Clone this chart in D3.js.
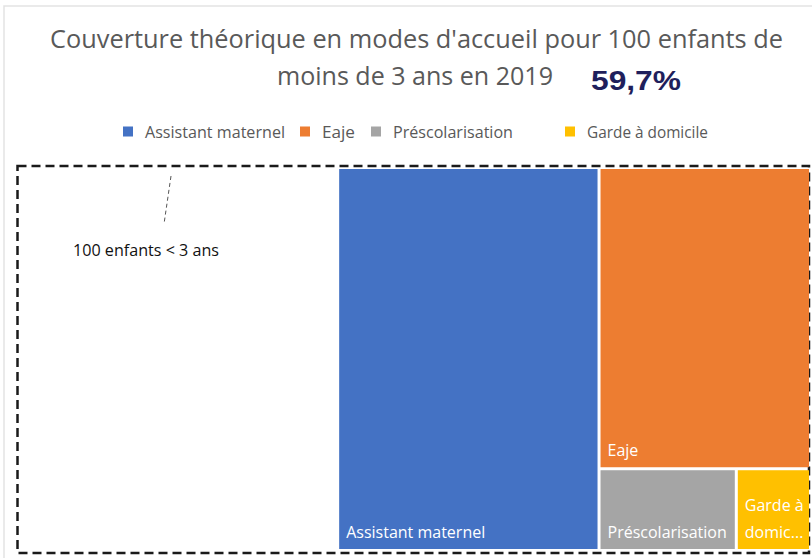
<!DOCTYPE html>
<meta charset="utf-8">
<title>Couverture théorique</title>
<style>
  body { margin: 0; background: #fff; }
  svg { display: block; font-family: "Open Sans", sans-serif; }
  .title { fill: #595959; font-size: 25px; }
  .total { fill: #1f1f5c; font-size: 28px; font-weight: bold; font-family: "Liberation Sans", Arial, sans-serif; }
  .legend text { fill: #595959; font-size: 17px; }
  .box { fill: none; stroke: #1a1a1a; stroke-width: 2.5px; stroke-dasharray: 9 5; }
  .label { fill: #fff; font-size: 16px; }
  .note { fill: #111; font-size: 16px; }
  .pointer { stroke: #555; stroke-width: 1px; stroke-dasharray: 4 3; }
</style>
<svg width="812" height="558"></svg>
<script src="https://d3js.org/d3.v7.min.js"></script>
<script>
  // data
  var categories = ["Assistant maternel", "Eaje", "Préscolarisation", "Garde à domicile"];
  var values = [33.0, 21.0, 3.7, 2.0];
  var colors = ["#4472C4", "#ED7D31", "#A5A5A5", "#FFC000"];
  var cellLabels = [["Assistant maternel"], ["Eaje"], ["Préscolarisation"], ["Garde à", "domic..."]];
  var totalLabel = "59,7%";
  var titleLines = ["Couverture théorique en modes d'accueil pour 100 enfants de", "moins de 3 ans en 2019"];
  var boxLabel = "100 enfants < 3 ans";

  var svg = d3.select("svg");

  // frame of the original chart area
  svg.append("path")
    .attr("d", "M4,558V6H812")
    .attr("fill", "none")
    .attr("stroke", "#e3e3e3")
    .attr("stroke-width", 1.5);

  // title
  svg.append("text").attr("class", "title")
    .attr("x", 50).attr("y", 48)
    .attr("textLength", 733).attr("lengthAdjust", "spacingAndGlyphs")
    .text(titleLines[0]);
  svg.append("text").attr("class", "title")
    .attr("x", 277).attr("y", 85)
    .attr("textLength", 276).attr("lengthAdjust", "spacingAndGlyphs")
    .text(titleLines[1]);
  svg.append("text").attr("class", "total")
    .attr("x", 591).attr("y", 90)
    .attr("textLength", 90).attr("lengthAdjust", "spacingAndGlyphs")
    .text(totalLabel);

  // legend
  var legendX = [123, 300, 371, 565];
  var legendW = [140, 33, 120, 121];
  var legend = svg.append("g").attr("class", "legend")
    .selectAll("g").data(categories).join("g")
    .attr("transform", (d, i) => "translate(" + legendX[i] + ",131)");
  legend.append("rect")
    .attr("x", 0).attr("y", -4.5).attr("width", 10).attr("height", 10)
    .attr("fill", (d, i) => colors[i]);
  legend.append("text")
    .attr("x", 22).attr("y", 7)
    .attr("textLength", (d, i) => legendW[i]).attr("lengthAdjust", "spacingAndGlyphs")
    .text(d => d);

  // scale: the dashed box stands for 100 children
  var x = d3.scaleLinear().domain([0, 100]).range([22, 809]);
  var mapTop = 169, mapBottom = 549;
  var total = d3.sum(values);

  svg.append("rect").attr("class", "box")
    .attr("x", 17.5).attr("y", 166)
    .attr("width", 809 - 17.5).attr("height", 553 - 166);

  // nested layout: first item, then rest split recursively
  function nest(i) {
    if (i === values.length - 1) return { name: categories[i], i: i, value: values[i] };
    return { children: [{ name: categories[i], i: i, value: values[i] }, nest(i + 1)] };
  }
  var root = d3.hierarchy(nest(0)).sum(d => d.value || 0);
  d3.treemap()
    .tile(d3.treemapSliceDice)
    .size([x(100) - x(100 - total), mapBottom - mapTop])
    .paddingInner(3)(root);

  var cells = svg.append("g")
    .attr("transform", "translate(" + x(100 - total) + "," + mapTop + ")")
    .selectAll("g").data(root.leaves()).join("g")
    .attr("transform", d => "translate(" + d.x0 + "," + d.y0 + ")");
  cells.append("rect")
    .attr("width", d => d.x1 - d.x0)
    .attr("height", d => d.y1 - d.y0)
    .attr("fill", d => colors[d.data.i]);
  cells.each(function (d) {
    var lines = cellLabels[d.data.i];
    var h = d.y1 - d.y0;
    var t = d3.select(this).append("text").attr("class", "label");
    lines.forEach(function (l, k) {
      t.append("tspan")
        .attr("x", 7)
        .attr("y", h - 11 - (lines.length - 1 - k) * 27)
        .text(l);
    });
  });

  // annotation
  svg.append("line").attr("class", "pointer")
    .attr("x1", 171).attr("y1", 176).attr("x2", 164).attr("y2", 224);
  svg.append("text").attr("class", "note")
    .attr("x", 73).attr("y", 256)
    .attr("textLength", 146).attr("lengthAdjust", "spacingAndGlyphs")
    .text(boxLabel);
</script>
